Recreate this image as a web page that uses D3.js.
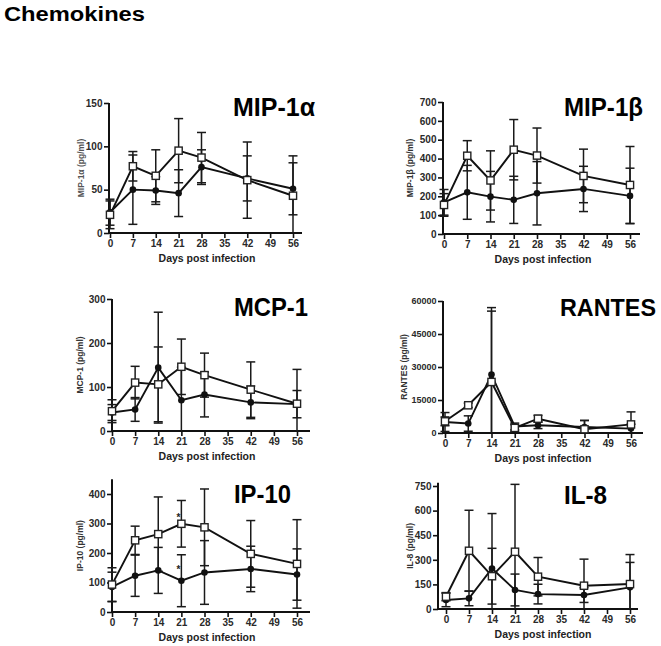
<!DOCTYPE html>
<html><head><meta charset="utf-8">
<script src="https://cdn.jsdelivr.net/npm/d3@7"></script>
<style>
html,body{margin:0;padding:0;background:#fff;}
svg{display:block;font-family:"Liberation Sans",Arial,sans-serif;}
</style></head>
<body><svg id="c" width="661" height="646"></svg>
<script>
// ---------- data ----------
const days = [0, 7, 14, 21, 28, 42, 56];
const xTicks = [0, 7, 14, 21, 28, 35, 42, 49, 56];

const mip1aSq = [21, 77, 66, 95, 87, 61, 43];
const mip1aSqErr = [16, 17, 30, 37, 29, 44, 46];
const mip1aCi = [24, 50, 49, 46, 76, 63, 51];
const mip1aCiErr = [15, 40, 16, 27, 20, 26, 30];
const mip1aTicks = [0, 50, 100, 150];

const mip1bSq = [154, 415, 284, 447, 416, 308, 260];
const mip1bSqErr = [60, 80, 157, 160, 146, 142, 204];
const mip1bCi = [168, 221, 198, 181, 216, 239, 202];
const mip1bCiErr = [68, 143, 134, 125, 168, 120, 147];
const mip1bTicks = [0, 100, 200, 300, 400, 500, 600, 700];

const mcp1Sq = [45, 110, 106, 146, 127, 94, 62];
const mcp1SqErr = [26, 37, 85, 63, 50, 63, 78];
const mcp1Ci = [42, 49, 144, 70, 83, 65, 61];
const mcp1CiErr = [18, 27, 126, 75, 51, 37, 31];
const mcp1Ticks = [0, 100, 200, 300];

const rantesSq = [5300, 12600, 23200, 2300, 6500, 1700, 3900];
const rantesSqErr = [2000, 1000, 33800, 1500, 1500, 4000, 5700];
const rantesCi = [5000, 4300, 26600, 3000, 3500, 2700, 2000];
const rantesCiErr = [4300, 3500, 28800, 1500, 1500, 3000, 2000];
const rantesTicks = [0, 15000, 30000, 45000, 60000];

const ip10Sq = [93, 243, 264, 299, 287, 197, 163];
const ip10SqErr = [57, 48, 126, 79, 130, 113, 150];
const ip10Ci = [85, 123, 141, 106, 134, 146, 127];
const ip10CiErr = [50, 70, 78, 88, 108, 77, 87];
const ip10Ticks = [0, 100, 200, 300, 400];
const ip10Stars = [{day: 21, value: 322}, {day: 21, value: 145}];

const il8Sq = [75, 355, 200, 349, 197, 142, 152];
const il8SqErr = [25, 247, 170, 411, 117, 162, 180];
const il8Ci = [55, 65, 247, 116, 91, 85, 132];
const il8CiErr = [41, 45, 335, 97, 60, 45, 152];
const il8Ticks = [0, 150, 300, 450, 600, 750];

const panelTitles = ["MIP-1\u03b1", "MIP-1\u03b2", "MCP-1", "RANTES", "IP-10", "IL-8"];
const yLabels = ["MIP-1\u03b1 (pg/ml)", "MIP-1\u03b2 (pg/ml)", "MCP-1 (pg/ml)", "RANTES (pg/ml)", "IP-10 (pg/ml)", "IL-8 (pg/ml)"];
const xLabel = "Days post infection";

// ---------- layout ----------
const panels = [
  {sq: mip1aSq, sqE: mip1aSqErr, ci: mip1aCi, ciE: mip1aCiErr, ticks: mip1aTicks, yMax: 150, axTop: 150,
   axisX: 109, x0: 110, x56: 293, xEnd: 302, yTopPx: 103, y0: 233, titleX: 233, titleY: 116, titleW: 82, tsz: 25, ylx: 81, xlx: 207, tfs: 10},
  {sq: mip1bSq, sqE: mip1bSqErr, ci: mip1bCi, ciE: mip1bCiErr, ticks: mip1bTicks, yMax: 700, axTop: 700,
   axisX: 443, x0: 444, x56: 630, xEnd: 640, yTopPx: 102, y0: 234, titleX: 564, titleY: 116, titleW: 79, tsz: 25, ylx: 410, xlx: 543, tfs: 10},
  {sq: mcp1Sq, sqE: mcp1SqErr, ci: mcp1Ci, ciE: mcp1CiErr, ticks: mcp1Ticks, yMax: 300, axTop: 300,
   axisX: 112, x0: 112, x56: 297, xEnd: 310, yTopPx: 299, y0: 431, titleX: 234, titleY: 316, titleW: 74, tsz: 25, ylx: 80, xlx: 207, tfs: 10},
  {sq: rantesSq, sqE: rantesSqErr, ci: rantesCi, ciE: rantesCiErr, ticks: rantesTicks, yMax: 60000, axTop: 60000,
   axisX: 443, x0: 445, x56: 631, xEnd: 643, yTopPx: 301, y0: 433, titleX: 560, titleY: 316, titleW: 96, tsz: 23.5, ylx: 404, xlx: 543, tfs: 9},
  {sq: ip10Sq, sqE: ip10SqErr, ci: ip10Ci, ciE: ip10CiErr, ticks: ip10Ticks, yMax: 400, axTop: 450,
   axisX: 112, x0: 112, x56: 297, xEnd: 310, yTopPx: 494, y0: 612, titleX: 234, titleY: 503, titleW: 57, tsz: 25, ylx: 80, xlx: 207, tfs: 10, stars: ip10Stars},
  {sq: il8Sq, sqE: il8SqErr, ci: il8Ci, ciE: il8CiErr, ticks: il8Ticks, yMax: 750, axTop: 770,
   axisX: 438, x0: 446, x56: 630, xEnd: 638, yTopPx: 486, y0: 609, titleX: 564, titleY: 504, titleW: 43, tsz: 25, ylx: 410, xlx: 543, tfs: 10}
];

const svg = d3.select("#c");
const INK = "#111";
const TICKC = "#2a2a2a";

svg.append("text").attr("x", 4).attr("y", 21)
  .attr("font-size", 20).attr("font-weight", "bold").attr("fill", "#000")
  .attr("textLength", 141).attr("lengthAdjust", "spacingAndGlyphs")
  .text("Chemokines");

panels.forEach((p, i) => {
  const g = svg.append("g");
  const x = d3.scaleLinear().domain([0, 56]).range([p.x0, p.x56]);
  const y = d3.scaleLinear().domain([0, p.yMax]).range([p.y0, p.yTopPx]);

  // y axis
  const ya = g.append("g").attr("transform", `translate(${p.axisX},0)`)
    .call(d3.axisLeft(y).tickValues(p.ticks).tickFormat(d3.format("d")).tickSize(5).tickPadding(1.5).tickSizeOuter(0));
  ya.select(".domain").remove();
  ya.append("line").attr("x1", 0).attr("x2", 0).attr("y1", y(0) + 1).attr("y2", y(p.axTop))
    .attr("stroke", INK).attr("stroke-width", 2);
  ya.selectAll(".tick line").attr("stroke", INK).attr("stroke-width", 1.6);
  ya.selectAll(".tick text").attr("font-size", p.tfs).attr("font-weight", "bold").attr("fill", TICKC)
    .attr("font-family", "Liberation Sans, Arial, sans-serif");

  // x axis
  const xa = g.append("g").attr("transform", `translate(0,${p.y0})`)
    .call(d3.axisBottom(x).tickValues(xTicks).tickSize(5).tickPadding(2).tickSizeOuter(0));
  xa.select(".domain").remove();
  xa.append("line").attr("x1", p.axisX - 1).attr("x2", p.xEnd).attr("y1", 0).attr("y2", 0)
    .attr("stroke", INK).attr("stroke-width", 2);
  xa.selectAll(".tick line").attr("stroke", INK).attr("stroke-width", 1.6);
  xa.selectAll(".tick text").attr("font-size", 10).attr("font-weight", "bold").attr("fill", TICKC)
    .attr("font-family", "Liberation Sans, Arial, sans-serif");

  // labels
  g.append("text").attr("x", p.xlx).attr("y", p.y0 + 29).attr("text-anchor", "middle")
    .attr("font-size", 10.5).attr("font-weight", "bold").attr("fill", "#222").text(xLabel);
  const yMid = (y(0) + y(p.axTop)) / 2;
  g.append("text").attr("transform", `translate(${p.ylx},${yMid}) rotate(-90)`)
    .attr("text-anchor", "middle").attr("dy", "0.35em")
    .attr("font-size", 8.5).attr("font-weight", "bold").attr("fill", i === 0 ? "#555" : "#333").text(yLabels[i]);
  g.append("text").attr("x", p.titleX).attr("y", p.titleY)
    .attr("font-size", p.tsz).attr("font-weight", "bold").attr("fill", "#000")
    .attr("textLength", p.titleW).attr("lengthAdjust", "spacingAndGlyphs")
    .text(panelTitles[i]);

  const clampY = v => y(Math.max(0, v));
  const series = [
    {vals: p.ci, err: p.ciE, type: "circle"},
    {vals: p.sq, err: p.sqE, type: "square"}
  ];
  const line = d3.line().x((d, k) => x(days[k])).y(d => y(d));

  // error bars
  series.forEach(s => {
    const eb = g.append("g").attr("stroke", "#1a1a1a").attr("stroke-width", 1.5).attr("fill", "none");
    s.vals.forEach((v, k) => {
      const cx = x(days[k]);
      const hi = y(v + s.err[k]), lo = clampY(v - s.err[k]);
      eb.append("line").attr("x1", cx).attr("x2", cx).attr("y1", hi).attr("y2", lo);
      eb.append("line").attr("x1", cx - 4.5).attr("x2", cx + 4.5).attr("y1", hi).attr("y2", hi);
      if (v - s.err[k] > 0)
        eb.append("line").attr("x1", cx - 4.5).attr("x2", cx + 4.5).attr("y1", lo).attr("y2", lo);
    });
  });

  // lines and markers
  series.forEach(s => {
    g.append("path").datum(s.vals).attr("d", line)
      .attr("fill", "none").attr("stroke", INK).attr("stroke-width", 1.9);
  });
  series.forEach(s => {
    if (s.type === "circle") {
      g.selectAll(null).data(s.vals).enter().append("circle")
        .attr("cx", (d, k) => x(days[k])).attr("cy", d => y(d)).attr("r", 3.3).attr("fill", INK);
    } else {
      g.selectAll(null).data(s.vals).enter().append("rect")
        .attr("x", (d, k) => x(days[k]) - 3.6).attr("y", d => y(d) - 3.6)
        .attr("width", 7.2).attr("height", 7.2)
        .attr("fill", "#fff").attr("stroke", "#222").attr("stroke-width", 1.4);
    }
  });

  if (p.stars) {
    g.selectAll(null).data(p.stars).enter().append("text")
      .attr("x", d => x(d.day) - 3).attr("y", d => y(d.value) + 4)
      .attr("text-anchor", "middle").attr("font-size", 10).attr("font-weight", "bold").attr("fill", "#222")
      .text("*");
  }
});
</script></body></html>
